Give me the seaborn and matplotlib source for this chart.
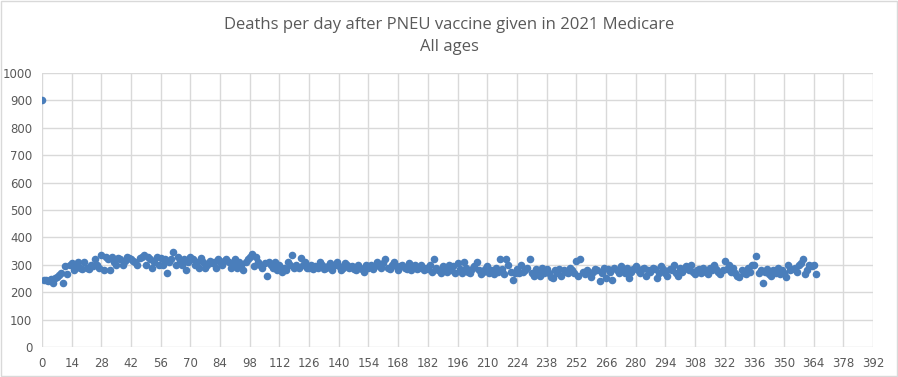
import numpy as np
import matplotlib
matplotlib.use("Agg")
import matplotlib.pyplot as plt
import pandas as pd
import seaborn as sns

# deaths per day, day 0 .. 365
deaths = [
    900,
    245, 245, 240, 248, 232, 250, 255, 262, 270, 235, 295, 265, 300,
    305, 280, 300, 310, 290, 285, 310, 290, 285, 300, 295, 320, 300, 290,
    335, 280, 330, 320, 280, 330, 310, 300, 325, 320, 300, 315, 330, 325,
    320, 315, 310, 300, 325, 330, 335, 300, 330, 320, 290, 310, 330, 300,
    325, 300, 320, 270, 310, 320, 345, 300, 330, 310, 300, 320, 280, 310,
    330, 320, 300, 310, 290, 325, 310, 290, 300, 315, 305, 310, 290, 320,
    310, 300, 315, 320, 310, 290, 300, 320, 290, 310, 300, 280, 310, 320,
    330, 340, 295, 330, 310, 300, 290, 305, 260, 310, 300, 290, 310, 280,
    300, 275, 290, 280, 310, 300, 335, 290, 300, 290, 325, 300, 310, 290,
    290, 300, 285, 295, 290, 310, 300, 285, 290, 295, 305, 280, 300, 310,
    295, 280, 290, 305, 300, 290, 295, 285, 280, 300, 290, 285, 275, 300,
    290, 300, 285, 295, 310, 300, 290, 305, 320, 290, 285, 300, 310, 295,
    280, 295, 300, 290, 285, 305, 280, 295, 300, 285, 290, 300, 280, 290,
    285, 300, 275, 320, 290, 280, 270, 295, 285, 275, 300, 280, 295, 270,
    305, 285, 270, 310, 290, 275, 270, 285, 295, 310, 280, 265, 275, 285,
    295, 270, 280, 265, 290, 275, 320, 285, 265, 320, 300, 275, 245, 270,
    285, 270, 300, 275, 280, 290, 320, 270, 260, 285, 275, 260, 290, 270,
    285, 270, 255, 250, 280, 270, 285, 260, 280, 275, 270, 290, 280, 270,
    315, 260, 320, 275, 265, 280, 270, 255, 275, 285, 280, 240, 270, 290,
    250, 285, 275, 245, 290, 280, 270, 295, 285, 270, 290, 250, 275, 285,
    295, 280, 270, 285, 290, 260, 280, 275, 290, 285, 250, 270, 295, 285,
    270, 260, 285, 280, 300, 270, 260, 290, 275, 285, 295, 280, 300, 275,
    265, 280, 285, 270, 290, 275, 265, 290, 280, 300, 285, 275, 265, 280,
    315, 285, 300, 275, 290, 270, 260, 255, 280, 270, 265, 290, 275, 300,
    300, 331, 270, 280, 235, 275, 285, 265, 260, 280, 270, 290, 265, 280,
    270, 255, 300, 280, 285, 290, 275, 300, 305, 320, 265, 280, 300, 295,
    300, 268,
]
days = list(range(len(deaths)))
x_ticks = list(range(0, 393, 14))
y_ticks = list(range(0, 1001, 100))

df = pd.DataFrame({"day": days, "deaths": deaths})

fig = plt.figure(figsize=(8.98, 3.77), dpi=100)
ax = fig.add_axes([0.0468, 0.0796, 0.9254, 0.7268])

sns.scatterplot(data=df, x="day", y="deaths", ax=ax, color="#4a7ebb",
                s=30, edgecolor="#4a7ebb", linewidth=0, zorder=3)

ax.set_xlim(0, 392)
ax.set_ylim(0, 1000)
ax.set_xticks(x_ticks)
ax.set_yticks(y_ticks)
ax.grid(True, color="#d9d9d9", linewidth=1)
ax.set_axisbelow(True)
for s in ax.spines.values():
    s.set_visible(False)
ax.tick_params(length=0, labelsize=8.5, labelcolor="#595959", pad=7)
ax.set_xlabel("")
ax.set_ylabel("")

fig.text(0.5, 0.935, "Deaths per day after PNEU vaccine given in 2021 Medicare",
         ha="center", va="center", fontsize=12, color="#595959",
         family="Open Sans")
fig.text(0.5, 0.875, "All ages", ha="center", va="center", fontsize=12,
         color="#595959", family="Open Sans")

# light chart border
fig.patches.append(plt.Rectangle((0.001, 0.003), 0.998, 0.994, transform=fig.transFigure,
                                 fill=False, edgecolor="#d9d9d9", linewidth=1))

fig.savefig("out.png", dpi=100)
